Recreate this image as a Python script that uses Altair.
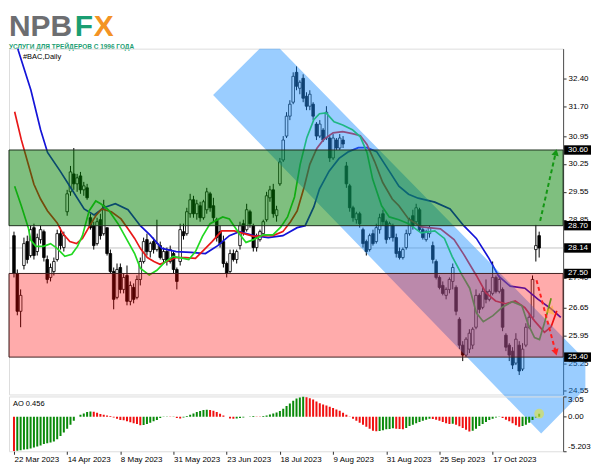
import altair as alt
import pandas as pd

# ---------------- data ----------------
opens = [28.45, 27.50, 26.55, 27.70, 28.30, 27.95, 28.65, 28.05, 28.35, 28.55,
         27.85, 27.40, 27.55, 27.85, 28.50, 28.15, 29.05, 29.55, 30.00, 29.75,
         29.95, 29.60, 29.65, 28.90, 28.70, 28.25, 28.85, 28.50, 28.65, 28.00,
         27.55, 26.90, 27.65, 27.10, 27.45, 26.80, 27.15, 26.90, 27.35, 27.80,
         28.35, 28.05, 28.30, 28.10, 28.20, 27.85, 28.05, 27.80, 28.00, 27.60,
         27.80, 28.55, 28.50, 29.00, 29.35, 29.00, 29.20, 28.90, 29.10, 29.50,
         29.20, 28.85, 28.55, 28.30, 27.75, 27.55, 28.00, 27.85, 28.20, 28.75,
         28.60, 29.05, 28.70, 28.15, 28.35, 28.50, 28.85, 29.40, 29.60, 28.95,
         29.75, 30.35, 30.95, 31.45, 31.80, 32.55, 32.15, 32.40, 31.95, 31.70,
         31.75, 31.25, 30.95, 31.10, 30.90, 30.90, 30.40, 30.85, 30.65, 30.85,
         30.20, 29.70, 29.15, 28.85, 29.00, 28.60, 28.30, 28.10, 28.50, 28.30,
         28.60, 29.00, 28.80, 28.40, 28.70, 28.40, 28.05, 27.90, 28.15, 28.50,
         28.95, 28.80, 29.10, 28.60, 28.35, 28.50, 28.20, 27.80, 27.40, 27.20,
         26.95, 27.10, 27.30, 27.15, 26.35, 25.70, 25.45, 25.60, 25.70, 26.15,
         26.95, 26.65, 27.05, 26.85, 27.00, 27.40, 27.05, 27.10, 25.95, 25.70,
         25.55, 25.25, 25.70, 25.10, 25.70, 26.15, 26.40, 28.10, 28.45]
highs = [28.55, 27.60, 27.10, 28.40, 28.45, 28.70, 28.75, 28.50, 28.70, 28.60,
         27.95, 27.75, 27.90, 28.60, 28.65, 28.55, 29.60, 30.20, 30.65, 30.00,
         30.05, 29.80, 29.75, 29.00, 28.80, 28.90, 29.00, 29.35, 28.65, 28.10,
         27.65, 27.75, 27.75, 27.50, 27.70, 27.30, 27.25, 27.45, 27.90, 28.40,
         28.50, 28.30, 28.40, 28.85, 28.30, 28.15, 28.15, 28.20, 28.05, 27.65,
         28.75, 28.75, 29.15, 29.50, 29.45, 29.35, 29.30, 29.35, 29.65, 29.55,
         29.40, 28.90, 28.70, 28.45, 27.80, 28.10, 28.10, 28.10, 28.80, 28.85,
         29.25, 29.10, 28.75, 28.50, 28.60, 28.85, 29.55, 29.70, 29.75, 29.20,
         30.40, 30.95, 31.55, 31.85, 32.55, 32.70, 32.35, 32.50, 32.05, 32.10,
         31.80, 31.30, 31.35, 31.15, 31.70, 30.95, 31.00, 30.90, 31.00, 30.95,
         30.30, 29.75, 29.20, 29.05, 29.05, 28.65, 28.35, 28.50, 28.60, 28.75,
         29.00, 29.10, 28.85, 28.80, 28.75, 28.50, 28.15, 28.15, 28.60, 28.90,
         29.10, 29.25, 29.15, 28.65, 28.60, 28.70, 28.30, 27.85, 27.45, 27.30,
         27.15, 27.40, 27.75, 27.20, 26.40, 25.80, 25.90, 26.10, 26.15, 27.10,
         27.00, 27.15, 27.35, 27.10, 27.80, 27.45, 27.45, 27.15, 26.00, 25.75,
         25.65, 26.00, 25.80, 25.75, 26.25, 26.50, 27.45, 28.72, 28.55]
lows = [27.40, 26.45, 26.15, 27.60, 27.75, 27.90, 27.85, 27.95, 28.25, 27.80,
        27.25, 27.30, 27.45, 27.80, 28.10, 28.05, 28.95, 29.45, 29.60, 29.55,
        29.50, 29.45, 29.35, 28.60, 28.10, 28.20, 28.35, 28.45, 27.95, 27.50,
        26.60, 26.85, 27.00, 27.00, 26.70, 26.70, 26.75, 26.85, 27.20, 27.75,
        27.95, 27.90, 28.00, 28.05, 27.85, 27.75, 27.70, 27.75, 27.50, 27.10,
        27.70, 28.35, 28.45, 28.90, 28.90, 28.85, 28.80, 28.85, 29.00, 29.05,
        28.80, 28.30, 28.15, 27.65, 27.40, 27.50, 27.80, 27.75, 28.10, 28.45,
        28.55, 28.65, 28.05, 28.05, 28.30, 28.45, 28.80, 29.30, 28.90, 28.80,
        29.70, 30.30, 30.90, 31.35, 31.75, 32.10, 32.00, 31.80, 31.60, 31.60,
        31.35, 30.85, 30.90, 30.80, 30.85, 30.30, 30.35, 30.60, 30.60, 30.65,
        29.65, 29.05, 28.80, 28.75, 28.65, 28.15, 27.95, 28.05, 28.20, 28.25,
        28.50, 28.70, 28.25, 28.35, 28.30, 27.90, 27.85, 27.85, 28.10, 28.45,
        28.60, 28.75, 28.55, 28.35, 28.30, 28.40, 27.75, 27.35, 27.10, 26.95,
        26.85, 27.00, 27.10, 26.45, 25.60, 25.30, 25.40, 25.50, 25.60, 26.10,
        26.50, 26.60, 26.75, 26.80, 26.95, 27.00, 27.00, 26.05, 25.55, 25.30,
        25.10, 25.20, 24.95, 25.05, 25.65, 26.10, 26.35, 27.80, 27.90]
closes = [27.50, 26.55, 26.95, 28.25, 27.85, 28.60, 27.95, 28.40, 28.60, 27.90,
          27.35, 27.65, 27.80, 28.50, 28.20, 28.45, 29.50, 30.05, 29.75, 29.90,
          29.60, 29.70, 29.40, 28.65, 28.20, 28.80, 28.45, 29.20, 28.00, 27.55,
          26.85, 27.60, 27.10, 27.40, 26.80, 27.20, 26.85, 27.35, 27.80, 28.30,
          28.05, 28.25, 28.10, 28.25, 27.90, 28.05, 27.80, 28.10, 27.60, 27.30,
          28.60, 28.45, 29.05, 29.35, 29.00, 29.25, 28.90, 29.30, 29.55, 29.15,
          28.90, 28.40, 28.25, 27.75, 27.50, 28.00, 27.85, 28.05, 28.70, 28.55,
          29.10, 28.75, 28.15, 28.40, 28.55, 28.80, 29.45, 29.60, 29.00, 29.10,
          30.30, 30.85, 31.45, 31.75, 32.45, 32.20, 32.30, 31.90, 31.70, 32.00,
          31.45, 30.95, 31.25, 30.85, 31.55, 30.40, 30.90, 30.65, 30.90, 30.75,
          29.75, 29.15, 28.90, 29.00, 28.75, 28.25, 28.05, 28.45, 28.25, 28.65,
          28.90, 28.80, 28.35, 28.75, 28.40, 28.00, 27.90, 28.10, 28.50, 28.85,
          28.70, 29.15, 28.60, 28.40, 28.55, 28.65, 27.85, 27.40, 27.15, 27.00,
          27.10, 27.35, 27.65, 26.55, 25.70, 25.45, 25.85, 26.00, 26.10, 26.95,
          26.60, 27.05, 26.85, 27.05, 27.40, 27.05, 27.35, 26.15, 25.65, 25.45,
          25.20, 25.85, 25.05, 25.60, 26.15, 26.40, 27.35, 28.20, 28.14]

ao_values = [-5.203, -5.15, -5.05, -4.95, -4.90, -4.80, -4.65, -4.50, -4.35, -4.10,
             -4.00, -3.90, -3.75, -3.40, -2.90, -2.40, -1.80, -1.20, -0.60, 0.00,
             0.30, 0.50, 0.70, 0.80, 0.75, 0.60, 0.40, 0.30, 0.20, 0.10,
             -0.10, -0.30, -0.50, -0.55, -0.70, -0.85, -1.00, -1.10, -1.30, -1.25,
             -1.10, -0.90, -0.70, -0.50, -0.20, -0.05, 0.05, -0.05, 0.05, -0.20,
             -0.25, -0.10, 0.10, 0.30, 0.50, 0.70, 0.85, 1.00, 1.05, 1.00,
             0.90, 0.70, 0.45, 0.20, 0.00, -0.25, -0.30, -0.25, -0.20, -0.10,
             0.00, 0.05, 0.10, 0.05, -0.05, 0.10, 0.20, 0.35, 0.50, 0.65,
             0.85, 1.20, 1.60, 2.00, 2.40, 2.75, 2.90, 3.05, 2.95, 2.80,
             2.60, 2.30, 2.05, 1.85, 1.70, 1.50, 1.30, 1.10, 0.90, 0.60,
             0.30, 0.05, -0.30, -0.60, -0.90, -1.20, -1.50, -1.80, -2.10, -2.20,
             -2.15, -2.05, -1.90, -1.85, -1.75, -1.80, -1.85, -1.90, -1.70, -1.40,
             -1.20, -1.00, -0.80, -0.60, -0.45, -0.30, -0.35, -0.45, -0.60, -0.80,
             -1.00, -1.10, -1.05, -1.20, -1.45, -1.70, -1.95, -2.25, -2.10, -1.80,
             -1.40, -1.10, -0.80, -0.50, -0.30, -0.10, -0.05, -0.20, -0.45, -0.70,
             -1.00, -1.30, -1.50, -1.40, -1.20, -0.90, -0.50, -0.10, 0.456]

# Alligator lines (bar position, price)
blue_idx = [0.0, 1.3, 5.1, 8.0, 10.1, 13.9, 17.7, 21.1, 24.1, 27.0, 30.5, 34.3, 38.0, 40.9,
            44.5, 48.8, 53.2, 57.6, 61.3, 64.8, 67.8, 72.1, 76.5, 80.9, 85.2, 87.6, 90.2,
            91.9, 94.8, 97.8, 100.7, 103.6, 106.2, 109.1, 112.9, 115.8, 118.7, 121.6,
            126.6, 131.2, 135.3, 139.1, 142.9, 145.8, 149.3, 153.7, 157.5, 161.6, 164.5]
blue_val = [33.60, 33.10, 32.10, 31.11, 30.54, 30.07, 29.57, 29.12, 28.97, 29.15, 29.25,
            29.10, 28.70, 28.47, 28.13, 28.05, 28.03, 28.00, 28.20, 28.45, 28.55, 28.45,
            28.40, 28.45, 28.65, 28.70, 29.17, 29.62, 30.07, 30.39, 30.56, 30.66, 30.66,
            30.56, 30.07, 29.69, 29.49, 29.39, 29.29, 29.12, 28.70, 28.38, 27.88, 27.43,
            27.18, 27.13, 26.86, 26.61, 26.40]
red_idx = [0.2, 2.2, 4.3, 6.0, 8.0, 10.1, 13.0, 14.7, 16.8, 18.8, 20.6, 22.6, 24.6, 26.4,
           29.3, 32.2, 34.3, 36.3, 38.0, 40.1, 42.1, 43.9, 45.9, 48.8, 51.7, 54.6, 57.0,
           59.6, 62.5, 66.3, 69.2, 72.1, 75.0, 77.9, 80.9, 83.2, 85.2, 87.3, 89.0, 91.1,
           93.1, 96.0, 98.9, 101.8, 104.2, 106.2, 108.5, 110.9, 113.8, 115.8, 118.7,
           122.5, 128.3, 132.4, 135.3, 139.1, 142.0, 144.9, 147.9, 150.8, 153.7, 156.6,
           159.6, 161.6, 163.3]
red_val = [31.56, 30.86, 30.24, 29.74, 29.37, 29.07, 28.77, 28.50, 28.30, 28.25, 28.38,
           28.67, 28.95, 29.12, 29.05, 28.87, 28.62, 28.38, 28.13, 27.90, 27.80, 27.73,
           27.80, 27.90, 27.90, 27.88, 28.08, 28.30, 28.57, 28.57, 28.50, 28.43, 28.45,
           28.45, 28.55, 28.80, 29.07, 29.67, 30.24, 30.64, 30.86, 31.03, 31.06, 31.01,
           30.96, 30.74, 30.31, 29.79, 29.37, 29.20, 28.87, 28.67, 28.62, 28.35, 27.98,
           27.45, 27.01, 26.81, 26.74, 26.81, 26.64, 26.31, 26.02, 26.16, 26.56]
green_idx = [0.2, 2.2, 4.3, 5.1, 6.6, 8.9, 11.0, 13.0, 15.3, 17.4, 19.1, 20.6, 22.6, 24.6,
             26.1, 28.4, 31.3, 34.3, 36.3, 38.0, 40.7, 43.0, 45.3, 47.9, 50.9, 52.6, 54.6,
             56.7, 59.0, 62.8, 64.8, 67.8, 69.8, 72.1, 75.0, 77.9, 80.3, 82.3, 84.4, 86.1,
             88.1, 90.2, 91.9, 93.9, 96.3, 98.9, 101.8, 104.2, 106.2, 107.9, 110.6, 112.9,
             115.8, 118.7, 122.5, 126.6, 129.5, 131.8, 134.8, 137.1, 139.1, 141.2, 144.1,
             147.0, 149.9, 152.8, 154.6, 156.6, 158.1, 159.6, 161.6]
green_val = [29.69, 29.20, 28.65, 28.33, 28.18, 28.18, 28.25, 28.13, 27.93, 27.98, 28.18,
             28.45, 29.07, 29.32, 29.25, 29.10, 28.75, 28.30, 28.00, 27.63, 27.46, 27.58,
             27.78, 27.93, 27.88, 27.85, 28.05, 28.43, 28.75, 28.92, 28.87, 28.50, 28.28,
             28.35, 28.47, 28.47, 28.67, 28.92, 29.42, 30.24, 30.91, 31.36, 31.51, 31.53,
             31.31, 31.23, 31.11, 30.93, 30.54, 29.87, 29.20, 28.92, 28.85, 28.75, 28.52,
             28.57, 28.38, 27.93, 27.46, 27.13, 26.51, 26.29, 26.44, 26.66, 26.79, 26.69,
             26.24, 25.89, 25.84, 26.26, 26.88]

green_zone = [28.70, 30.60]
red_zone = [25.40, 27.50]
last_price = 28.14
box_levels = [30.60, 28.70, 28.14, 27.50, 25.40]
price_ticks = [32.40, 31.70, 30.95, 30.25, 29.55, 28.85, 27.40, 26.65, 25.95, 25.25, 24.55]
ao_ticks = [3.05, 0.0, -5.203]
ao_tick_text = ["3.05", "0.00", "-5.203"]
date_ticks = [0, 16, 32, 48, 64, 80, 96, 112, 128, 144]
date_labels = ["22 Mar 2023", "14 Apr 2023", "8 May 2023", "31 May 2023", "23 Jun 2023",
               "18 Jul 2023", "9 Aug 2023", "31 Aug 2023", "25 Sep 2023", "17 Oct 2023"]

# descending channel drawn by the analyst (bar position, upper / lower price),
# cut at the right edge of the picture
channel_idx = [59.9, 73.9, 80.0, 158.6, 171.9]
channel_top = [31.98, 33.145, 33.145, 26.46, 25.33]
channel_bot = [31.98, 30.77, 30.25, 23.48, 24.61]
# dashed forecast arrows
up_arrow_idx, up_arrow_val = [158.3, 163.0], [28.82, 30.54]
dn_arrow_idx, dn_arrow_val = [157.2, 163.0], [27.33, 25.52]

# ---------------- chart ----------------
W = 556
H_MAIN = 347
H_AO = 55
FONT = "Liberation Sans"
FS = 8

xs = alt.Scale(domain=[0, 163.7], nice=False, zero=False)
ys = alt.Scale(domain=[24.462, 33.145], nice=False, zero=False)

n = len(closes)
candles = pd.DataFrame({"i": list(range(n)), "o": opens, "h": highs, "l": lows, "c": closes})
candles["bull"] = candles["c"] >= candles["o"]

y_axis = alt.Axis(orient="right", values=price_ticks, format=".2f", title=None,
                  tickSize=3, labelPadding=2, grid=False, domainColor="#505050",
                  tickColor="#303030", labelOverlap=False, labelFontSize=FS)

def X(field):
    return alt.X(field, scale=xs, axis=None)

def Y(field):
    return alt.Y(field, scale=ys, axis=y_axis)

bid = alt.Chart(pd.DataFrame({"p": [last_price]})).mark_rule(
    color="#c4c4c4", strokeWidth=1).encode(y=Y("p:Q"))

wicks = alt.Chart(candles).mark_rule(color="black", strokeWidth=1, clip=True).encode(
    x=X("i:Q"), y=Y("l:Q"), y2="h:Q")

bodies = alt.Chart(candles).mark_bar(size=2.6, stroke="black", strokeWidth=0.8, clip=True).encode(
    x=X("i:Q"), y=Y("o:Q"), y2="c:Q",
    fill=alt.condition("datum.bull", alt.value("white"), alt.value("black")))

def ma_line(idx, val, color):
    df = pd.DataFrame({"i": idx, "v": val})
    return alt.Chart(df).mark_line(color=color, strokeWidth=1.7, clip=True).encode(
        x=X("i:Q"), y=Y("v:Q"))

blue = ma_line(blue_idx, blue_val, "#1414d8")
red = ma_line(red_idx, red_val, "#e81818")
green = ma_line(green_idx, green_val, "#22d822")

channel = alt.Chart(pd.DataFrame({"i": channel_idx, "t": channel_top, "b": channel_bot})).mark_area(
    color="#1e90ff", opacity=0.45, clip=False).encode(x=X("i:Q"), y=Y("t:Q"), y2="b:Q")

gz = alt.Chart(pd.DataFrame({"a": [green_zone[0]], "b": [green_zone[1]]})).mark_rect(
    fill="#008000", fillOpacity=0.5, stroke="#203020", strokeWidth=1).encode(
    x=alt.value(0), x2=alt.value(W), y=Y("a:Q"), y2="b:Q")
rz = alt.Chart(pd.DataFrame({"a": [red_zone[0]], "b": [red_zone[1]]})).mark_rect(
    fill="#ff0000", fillOpacity=0.33, stroke="#402020", strokeWidth=1).encode(
    x=alt.value(0), x2=alt.value(W), y=Y("a:Q"), y2="b:Q")

def dashed(idx, val, color, angle, shape):
    df = pd.DataFrame({"i": idx, "v": val})
    ln = alt.Chart(df).mark_line(color=color, strokeWidth=2, strokeDash=[4, 3], clip=False).encode(
        x=X("i:Q"), y=Y("v:Q"))
    head = alt.Chart(df.tail(1)).mark_point(shape=shape, filled=True, color=color, opacity=1,
                                           size=55, angle=angle, clip=False).encode(
        x=X("i:Q"), y=Y("v:Q"))
    return [ln, head]

up_arrow = dashed(up_arrow_idx, up_arrow_val, "#149614", 13, "triangle-up")
dn_arrow = dashed(dn_arrow_idx, dn_arrow_val, "#ff2020", 345, "triangle-down")

highlight = alt.Chart(pd.DataFrame({"i": [161.6], "v": [26.6]})).mark_point(
    shape="triangle-up", filled=True, color="#ffb020", opacity=0.55, size=100, angle=20).encode(
    x=X("i:Q"), y=Y("v:Q"))

boxes_df = pd.DataFrame({"p": box_levels})
boxes = alt.Chart(boxes_df).transform_calculate(
    top="datum.p + 0.118", bot="datum.p - 0.118").mark_rect(color="black", clip=False).encode(
    x=alt.value(W + 1), x2=alt.value(W + 28), y=Y("top:Q"), y2="bot:Q")
box_text = alt.Chart(boxes_df).mark_text(
    color="white", align="left", baseline="middle", fontSize=FS, font=FONT, clip=False).encode(
    x=alt.value(W + 5), y=Y("p:Q"), text=alt.Text("p:Q", format=".2f"))

sym = alt.Chart(pd.DataFrame({"t": ["#BAC,Daily"]})).mark_text(
    align="left", baseline="middle", fontSize=7.5, font=FONT, color="black").encode(
    x=alt.value(14), y=alt.value(8), text="t:N")

main = alt.layer(bid, wicks, bodies, blue, red, green, channel, gz, rz,
                 *up_arrow, *dn_arrow, highlight, boxes, box_text, sym).properties(
    width=W, height=H_MAIN)

# ---- AO pane ----
ao_df = pd.DataFrame({"i": list(range(len(ao_values))), "ao": ao_values})
ao_df["dir"] = ["up" if k > 0 and ao_values[k] > ao_values[k - 1] else "down"
                for k in range(len(ao_values))]

label_js = "[" + ",".join("'" + s + "'" for s in date_labels) + "]"
x_axis = alt.Axis(values=date_ticks, labelExpr=label_js + "[round(datum.value/16)]",
                  labelAlign="left", labelPadding=1, tickSize=3, tickColor="#303030",
                  domain=False, grid=False, title=None, labelOverlap=False, labelFontSize=FS,
                  labelBound=False, labelFlush=False)
ao_axis = alt.Axis(orient="right", values=ao_ticks, title=None, grid=False, tickSize=3,
                   labels=False, domainColor="#505050", tickColor="#303030")
ao_scale = alt.Scale(domain=[-5.215, 3.06], nice=False, zero=False)

def AX(field):
    return alt.X(field, scale=xs, axis=x_axis)

def AY(field):
    return alt.Y(field, scale=ao_scale, axis=ao_axis)

ao_bars = alt.Chart(ao_df).mark_bar(size=2, clip=True).encode(
    x=AX("i:Q"), y=AY("ao:Q"), y2=alt.datum(0),
    color=alt.Color("dir:N", scale=alt.Scale(domain=["up", "down"], range=["#0a8a0a", "#f01010"]),
                    legend=None))
ao_dot = alt.Chart(pd.DataFrame({"i": [158], "ao": [ao_values[-1]]})).mark_point(
    filled=True, size=95, color="#e2e23a", opacity=0.6).encode(x=AX("i:Q"), y=AY("ao:Q"))
ao_text = alt.Chart(pd.DataFrame({"t": ["AO " + str(ao_values[-1])]})).mark_text(
    align="left", baseline="middle", fontSize=7.5, font=FONT, color="black").encode(
    x=alt.value(4), y=alt.value(8), text="t:N")

# scale labels of the AO pane (top / zero / bottom), placed like the terminal does
ao_lab_df = pd.DataFrame({"v": ao_ticks, "t": ao_tick_text})
ao_labels = [
    alt.Chart(ao_lab_df.iloc[[k]]).mark_text(
        align="left", baseline=bl, fontSize=FS, font=FONT, color="black", clip=False).encode(
        x=alt.value(W + 5), y=AY("v:Q"), text="t:N")
    for k, bl in enumerate(["top", "middle", "bottom"])
]

ao = alt.layer(ao_bars, ao_dot, ao_text, *ao_labels).properties(width=W, height=H_AO)

# ---- header (logo) ----
hdr_df = pd.DataFrame({"t": ["x"]})
def htext(txt, x, y, size, color, baseline, weight="bold"):
    return alt.Chart(hdr_df).mark_text(
        text=txt, align="left", baseline=baseline, fontSize=size, fontWeight=weight,
        font=FONT, color=color).encode(x=alt.value(x), y=alt.value(y))

header = alt.layer(
    htext("NPB", 0, 3.6, 30, "#6d6e71", "top"),
    htext("F", 66, 3.6, 30, "#1a9e72", "top"),
    htext("X", 85, 3.6, 30, "#f39324", "top"),
    htext("УСЛУГИ ДЛЯ ТРЕЙДЕРОВ С 1996 ГОДА", 0, 41.2, 6.5, "#1a9e72", "bottom"),
).properties(width=W, height=38, view=alt.ViewBackground(stroke=None))

chart = alt.vconcat(header, main, ao, spacing=2, bounds="flush").properties(
    padding=0
).configure_view(stroke="#555555", strokeWidth=1).configure_axis(
    labelFont=FONT, labelColor="black"
).configure(background="white")

chart.save("out.html", embed_options={"renderer": "svg", "actions": False})
